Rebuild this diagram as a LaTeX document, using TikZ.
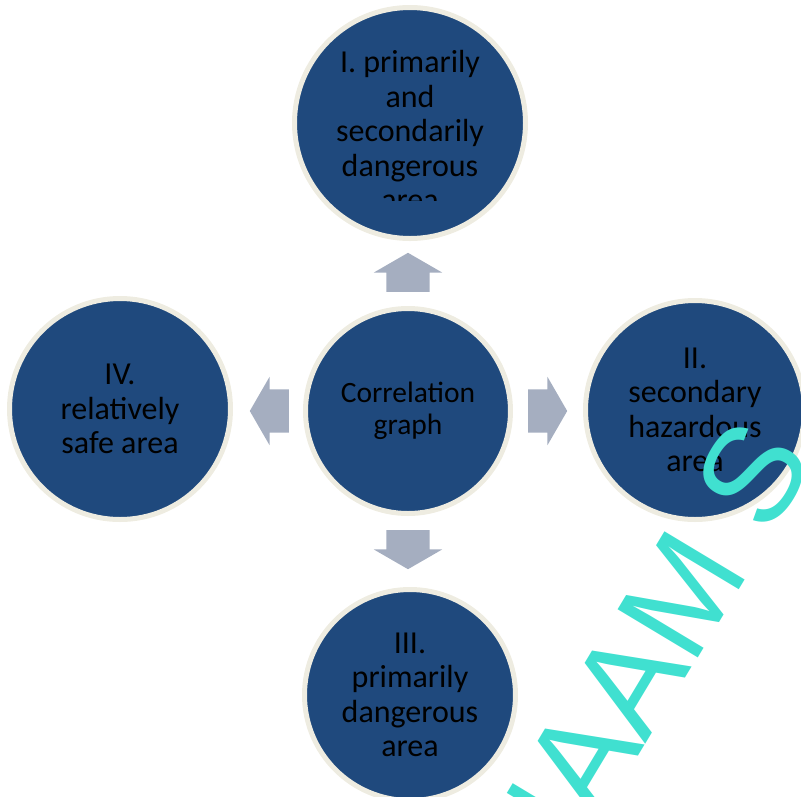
\documentclass[tikz,border=0pt]{standalone}
\usepackage{fontspec}
\setmainfont{Carlito}
\newfontfamily\wmfont{Liberation Sans}
\usetikzlibrary{shapes.arrows, calc}
\definecolor{circblue}{RGB}{31,73,125}
\definecolor{ringtan}{RGB}{238,236,225}
\definecolor{arrowgray}{RGB}{165,174,192}
\definecolor{wmcyan}{RGB}{64,224,208}

\begin{document}
\begin{tikzpicture}[x=1pt, y=-1pt,
  zone/.style={circle, fill=circblue, draw=ringtan, line width=5pt, inner sep=0pt, align=center, font=\fontsize{32}{34.5}\selectfont},
  zonetext/.style={align=center, inner sep=0pt, font=\fontsize{32}{34.5}\selectfont},
  blk/.style={single arrow, fill=arrowgray, inner xsep=0pt, inner ysep=21.5pt, single arrow head extend=12.5pt, single arrow tip angle=120, minimum height=39pt, anchor=tail}]
\useasboundingbox (0,0) rectangle (801,796);
\clip (0,0) rectangle (801,796);
\node[zone, minimum size=205pt, font=\fontsize{29.5}{32}\selectfont] (c0) at (408,411) {Correlation\\graph};
\node[zone, minimum size=231pt] (c1) at (410,123) {};
\node[zone, minimum size=219pt] (c2) at (695,410) {II.\\secondary\\hazardous\\area};
\node[zone, minimum size=211pt] (c3) at (410,695) {III.\\primarily\\dangerous\\area};
\node[zone, minimum size=221pt] (c4) at (120,409) {IV.\\relatively\\safe area};
% text of the top circle runs out of its box
\begin{scope}
\clip (280,0) rectangle (540,200);
\node[zonetext] (t1) at ($(c1)+(0,8)$) {I. primarily\\and\\secondarily\\dangerous\\area};
\end{scope}
% Arrows
\node[blk, rotate=90] (a1) at ([yshift=14pt]c0.north) {};
\node[blk] (a2) at ([xshift=15pt]c0.east) {};
\node[blk, rotate=-90] (a3) at ([yshift=-14pt]c0.south) {};
\node[blk, rotate=180] (a4) at ([xshift=-14pt]c0.west) {};
% watermark
\node[font=\wmfont\fontsize{136}{136}\selectfont, text=wmcyan, rotate=59, anchor=base west, inner sep=0pt] (wm) at (548,907) {NAAM S};
\end{tikzpicture}
\end{document}
